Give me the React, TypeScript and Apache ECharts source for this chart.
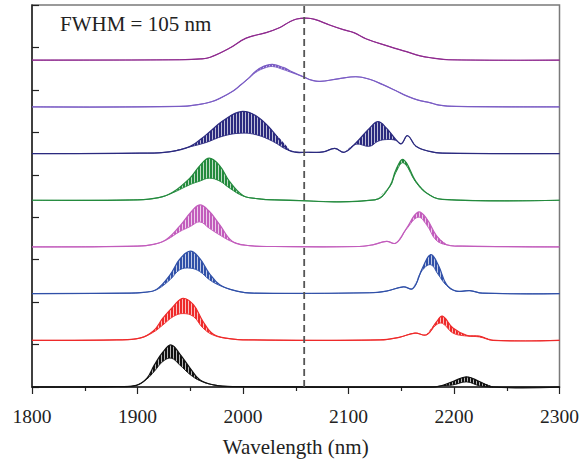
import React, { useEffect, useRef } from "react";
import * as echarts from "echarts";

// [wavelength (nm), upper envelope, lower envelope] relative to each trace baseline
const blackData = [
  [1800, 0, 0], [1880, 0.01, 0.01], [1899, 0.04, 0.04], [1909, 0.21, 0.19], [1916, 0.52, 0.37],
  [1924, 0.82, 0.6], [1932, 0.99, 0.68], [1940, 0.78, 0.52], [1950, 0.44, 0.29], [1959, 0.17, 0.15],
  [1972, 0.05, 0.05], [1990, 0.01, 0.01], [2180, 0, 0], [2188, 0.03, 0.03], [2199, 0.13, 0.05],
  [2212, 0.24, 0.12], [2224, 0.13, 0.03], [2237, 0, 0], [2300, 0, 0],
];
const redData = [
  [1800, 0, 0], [1880, 0.01, 0.01], [1902, 0.05, 0.05], [1915, 0.22, 0.19], [1924, 0.52, 0.36],
  [1934, 0.8, 0.56], [1943, 0.99, 0.63], [1953, 0.84, 0.56], [1962, 0.45, 0.29], [1972, 0.14, 0.12],
  [1987, 0.04, 0.04], [2005, 0.01, 0.01], [2130, 0.01, 0.01], [2148, 0.07, 0.07], [2163, 0.17, 0.17],
  [2174, 0.13, 0.13], [2183, 0.42, 0.36], [2189, 0.57, 0.4], [2199, 0.29, 0.17], [2212, 0.12, 0.1],
  [2224, 0.1, 0.08], [2237, 0, 0], [2300, 0, 0],
];
const blueData = [
  [1800, 0, 0], [1890, 0.01, 0.01], [1906, 0.03, 0.03], [1918, 0.1, 0.09], [1931, 0.45, 0.33],
  [1940, 0.81, 0.56], [1950, 1.0, 0.6], [1959, 0.83, 0.52], [1968, 0.48, 0.33], [1978, 0.21, 0.19],
  [1994, 0.06, 0.06], [2010, 0.01, 0.01], [2120, 0.02, 0.02], [2136, 0.06, 0.06], [2152, 0.16, 0.16],
  [2161, 0.12, 0.12], [2170, 0.6, 0.55], [2178, 0.92, 0.68], [2185, 0.68, 0.45], [2193, 0.21, 0.19],
  [2202, 0.06, 0.06], [2215, 0.07, 0.07], [2227, 0.01, 0.01], [2300, 0, 0],
];
const pinkData = [
  [1800, 0, 0], [1900, 0.02, 0.02], [1915, 0.06, 0.06], [1927, 0.17, 0.16], [1940, 0.49, 0.36],
  [1950, 0.8, 0.48], [1959, 0.99, 0.59], [1968, 0.84, 0.44], [1978, 0.52, 0.28], [1990, 0.13, 0.12],
  [2006, 0.03, 0.03], [2030, 0.01, 0.01], [2110, 0.01, 0.01], [2123, 0.05, 0.05], [2136, 0.13, 0.13],
  [2145, 0.09, 0.09], [2155, 0.44, 0.42], [2166, 0.82, 0.7], [2174, 0.67, 0.52], [2183, 0.28, 0.16],
  [2193, 0.05, 0.05], [2208, 0.02, 0.02], [2300, 0, 0],
];
const greenData = [
  [1800, 0, 0], [1900, 0.01, 0.01], [1920, 0.06, 0.06], [1933, 0.18, 0.17], [1950, 0.53, 0.37],
  [1959, 0.81, 0.45], [1968, 0.99, 0.52], [1978, 0.81, 0.45], [1987, 0.45, 0.29], [2000, 0.11, 0.1],
  [2013, 0.04, 0.04], [2030, 0.01, 0.01], [2125, 0.01, 0.01], [2139, 0.33, 0.31], [2145, 0.72, 0.66],
  [2152, 0.96, 0.88], [2164, 0.44, 0.42], [2174, 0.17, 0.17], [2189, 0.02, 0.02], [2300, 0, 0],
];
const navyData = [
  [1800, 0, 0], [1902, 0.01, 0.01], [1930, 0.04, 0.04], [1950, 0.17, 0.16], [1965, 0.44, 0.26],
  [1981, 0.77, 0.41], [1998, 0.99, 0.48], [2013, 0.88, 0.44], [2028, 0.53, 0.29], [2044, 0.07, 0.07],
  [2063, 0.03, 0.03], [2076, 0.04, 0.04], [2087, 0.12, 0.12], [2096, 0.03, 0.03], [2107, 0.25, 0.22],
  [2120, 0.6, 0.17], [2128, 0.75, 0.29], [2136, 0.6, 0.33], [2145, 0.33, 0.31], [2150, 0.23, 0.23],
  [2156, 0.42, 0.42], [2164, 0.17, 0.17], [2177, 0.05, 0.05], [2189, 0.01, 0.01], [2300, 0, 0],
];
const lavenderData = [
  [1800, 0, 0], [1940, 0.01, 0.01], [1959, 0.06, 0.06], [1970, 0.12, 0.12], [1978, 0.2, 0.2],
  [1991, 0.38, 0.38], [1998, 0.52, 0.52], [2005, 0.67, 0.66], [2012, 0.84, 0.81], [2020, 0.96, 0.91],
  [2028, 1.0, 0.95], [2038, 0.93, 0.88], [2047, 0.82, 0.8], [2058, 0.7, 0.7], [2065, 0.63, 0.63],
  [2073, 0.6, 0.6], [2090, 0.66, 0.66], [2107, 0.71, 0.71], [2120, 0.65, 0.65], [2132, 0.53, 0.53],
  [2145, 0.38, 0.38], [2155, 0.26, 0.26], [2166, 0.16, 0.16], [2177, 0.1, 0.1], [2186, 0.04, 0.04],
  [2202, 0.01, 0.01], [2300, 0, 0],
];
const purpleData = [
  [1800, 0, 0], [1940, 0.01, 0.01], [1960, 0.03, 0.03], [1969, 0.07, 0.07], [1987, 0.28, 0.28],
  [2003, 0.52, 0.52], [2022, 0.65, 0.65], [2035, 0.77, 0.77], [2044, 0.9, 0.9], [2051, 0.97, 0.97],
  [2060, 0.99, 0.99], [2068, 0.96, 0.96], [2082, 0.83, 0.83], [2095, 0.72, 0.72], [2105, 0.65, 0.65],
  [2117, 0.5, 0.5], [2139, 0.32, 0.32], [2155, 0.2, 0.2], [2168, 0.1, 0.1], [2180, 0.05, 0.05],
  [2195, 0.01, 0.01], [2300, 0, 0],
];

const spectra = [blackData, redData, blueData, pinkData, greenData, navyData, lavenderData, purpleData];
const offsets = [0, 1.1, 2.2, 3.3, 4.4, 5.5, 6.6, 7.7];
const colors = ["#111111", "#ee2a2a", "#3050a8", "#c25cbc", "#238a3d", "#2b2a7f", "#7a5cc4", "#8e2a8e"];
const dashedX = 2058;
const xTicks = [1800, 1900, 2000, 2100, 2200, 2300];
const annotation = "FWHM = 105 nm";
const xName = "Wavelength (nm)";

const FONT = "'Liberation Serif', 'DejaVu Serif', serif";
const SMOOTH = 0.4;

function hexToRgb(hex: string) {
  const n = parseInt(hex.slice(1), 16);
  return [(n >> 16) & 255, (n >> 8) & 255, n & 255];
}

function fringePattern(color: string) {
  const c = document.createElement("canvas");
  c.width = 3;
  c.height = 4;
  const ctx = c.getContext("2d");
  if (!ctx) return color;
  const [r, g, b] = hexToRgb(color);
  ctx.fillStyle = `rgb(${r},${g},${b})`;
  ctx.fillRect(0, 0, 2, 4);
  ctx.fillStyle = `rgba(${r},${g},${b},0.3)`;
  ctx.fillRect(2, 0, 1, 4);
  return { image: c, repeat: "repeat", imageWidth: 3, imageHeight: 4 };
}

export default function App() {
  const ref = useRef<HTMLDivElement>(null);
  useEffect(() => {
    if (!ref.current) return;
    const chart = echarts.init(ref.current, undefined, { renderer: "svg" });
    const patterns = colors.map((c) => fringePattern(c));
    const renderItem = (params: any, api: any) => {
      const i = params.dataIndex;
      const s = spectra[i];
      const off = offsets[i];
      const color = colors[i];
      const hi = s.map((p) => api.coord([p[0], off + p[1]]));
      const lo = s.map((p) => api.coord([p[0], off + p[2]]));
      const children: any[] = [];
      let k = 0;
      while (k < s.length) {
        if (s[k][1] > s[k][2]) {
          const a = Math.max(0, k - 1);
          while (k < s.length && s[k][1] > s[k][2]) k++;
          const b = Math.min(s.length - 1, k);
          const pts = hi.slice(a, b + 1).concat(lo.slice(a + 1, b).reverse());
          children.push({
            type: "polygon",
            shape: { points: pts, smooth: SMOOTH },
            style: { fill: patterns[i], stroke: null },
          });
        } else k++;
      }
      children.push({
        type: "polyline",
        shape: { points: lo, smooth: SMOOTH },
        style: { stroke: color, lineWidth: 0.9, fill: null },
      });
      children.push({
        type: "polyline",
        shape: { points: hi, smooth: SMOOTH },
        style: { stroke: color, lineWidth: 1.2, fill: null },
      });
      return { type: "group", children };
    };
    chart.setOption({
      animation: false,
      grid: {
        left: 32,
        right: 21.5,
        top: 5,
        bottom: 73,
        show: true,
        borderColor: "#7a7a7a",
        borderWidth: 1.5,
      },
      xAxis: {
        type: "value",
        min: 1800,
        max: 2300,
        interval: 100,
        name: xName,
        nameLocation: "middle",
        nameGap: 49,
        nameTextStyle: { fontFamily: FONT, fontSize: 21, color: "#222" },
        axisLine: { show: true, lineStyle: { color: "#222", width: 1.5 } },
        axisTick: { show: true, inside: false, length: 7, lineStyle: { color: "#222", width: 1.2 } },
        minorTick: { show: true, splitNumber: 2, length: 4, lineStyle: { color: "#222", width: 1.2 } },
        axisLabel: {
          fontFamily: FONT,
          fontSize: 19.5,
          color: "#222",
          margin: 19,
          formatter: (v: number) => (xTicks.includes(v) ? String(v) : ""),
        },
        splitLine: { show: false },
      },
      yAxis: {
        type: "value",
        min: 0,
        max: 9,
        interval: 1,
        axisLine: { show: true, lineStyle: { color: "#222", width: 1.5 } },
        axisTick: { show: true, inside: true, length: 7, lineStyle: { color: "#222", width: 1.2 } },
        axisLabel: { show: false },
        splitLine: { show: false },
      },
      graphic: [
        {
          type: "text",
          left: 60,
          top: 13,
          style: { text: annotation, fontFamily: FONT, fontSize: 21, fill: "#222" },
        },
      ],
      series: [
        {
          type: "custom",
          data: spectra.map((_, i) => [i]),
          renderItem,
          silent: true,
        },
        {
          type: "line",
          data: [
            [dashedX, 0],
            [dashedX, 9],
          ],
          showSymbol: false,
          z: 10,
          lineStyle: { color: "#555", width: 1.8, type: [7, 4] },
          silent: true,
        },
      ],
    });
    return () => chart.dispose();
  }, []);
  return <div ref={ref} style={{ position: "absolute", left: 0, top: 0, width: 582, height: 462 }} />;
}
